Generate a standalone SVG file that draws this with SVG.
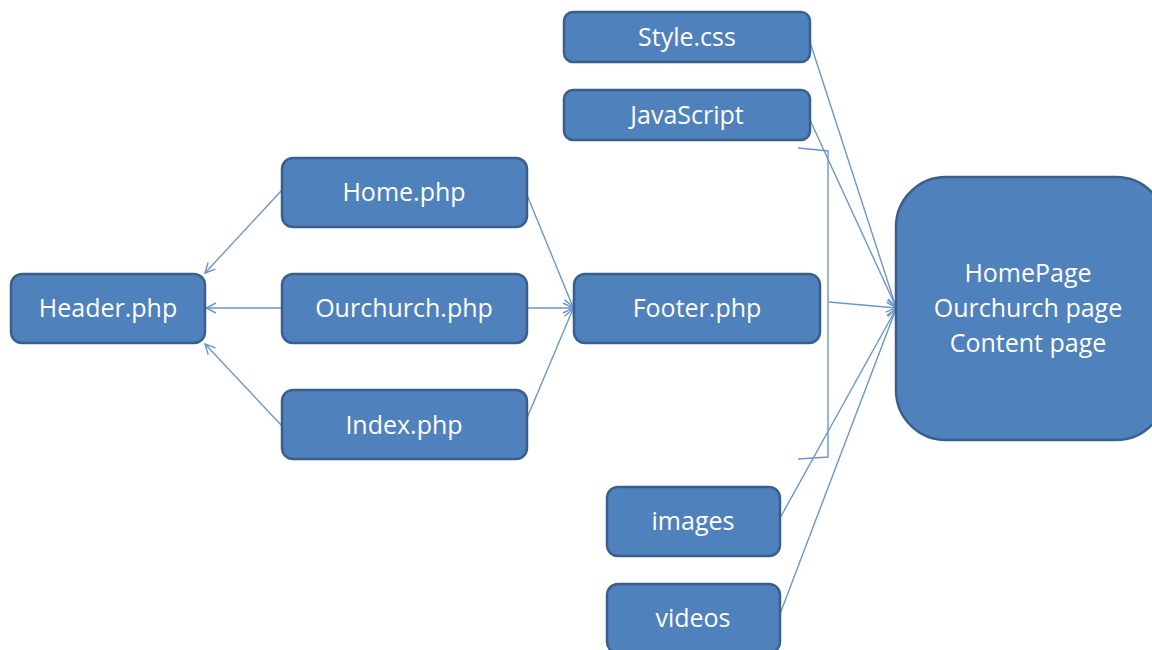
<svg xmlns="http://www.w3.org/2000/svg" width="1152" height="650" viewBox="0 0 1152 650">
  <style>
    .box { fill: #4F81BD; stroke: #3A5F8C; stroke-width: 2.5; }
    .lbl { fill: #FFFFFF; font-family: "Open Sans", "Liberation Sans", sans-serif; font-size: 25px; text-anchor: middle; }
    .link { fill: none; stroke: #6C96CC; stroke-width: 1.4; }
  </style>
  <defs>
    <marker id="arrow" viewBox="0 0 12 12" refX="11" refY="6" markerWidth="12" markerHeight="12" markerUnits="userSpaceOnUse" orient="auto">
      <path d="M1,1 L11,6 L1,11" fill="none" stroke="#6C96CC" stroke-width="1.4"/>
    </marker>
  </defs>
  <rect width="1152" height="650" fill="#FFFFFF"/>

  <g id="connectors">
    <!-- php pages to header -->
    <line class="link" x1="282" y1="190" x2="205" y2="273" marker-end="url(#arrow)"/>
    <line class="link" x1="282" y1="308" x2="206" y2="308" marker-end="url(#arrow)"/>
    <line class="link" x1="282" y1="426" x2="205" y2="344" marker-end="url(#arrow)"/>
    <!-- php pages to footer -->
    <line class="link" x1="527" y1="195" x2="573" y2="307" marker-end="url(#arrow)"/>
    <line class="link" x1="527" y1="308" x2="573" y2="308" marker-end="url(#arrow)"/>
    <line class="link" x1="527" y1="418" x2="573" y2="309" marker-end="url(#arrow)"/>
    <!-- bracket grouping footer -->
    <polyline class="link" points="798,148 828,151 828,457 798,459"/>
    <!-- assets to output pages -->
    <line class="link" x1="810" y1="42" x2="896" y2="307" marker-end="url(#arrow)"/>
    <line class="link" x1="810" y1="120" x2="896" y2="307" marker-end="url(#arrow)"/>
    <line class="link" x1="829" y1="302" x2="896" y2="308" marker-end="url(#arrow)"/>
    <line class="link" x1="780" y1="518" x2="896" y2="309" marker-end="url(#arrow)"/>
    <line class="link" x1="780" y1="614" x2="896" y2="309" marker-end="url(#arrow)"/>
  </g>

  <g id="header">
    <rect class="box" x="11" y="274" width="194" height="69" rx="11"/>
    <text class="lbl" x="108" y="317">Header.php</text>
  </g>
  <g id="home">
    <rect class="box" x="282" y="158" width="245" height="69" rx="11"/>
    <text class="lbl" x="404" y="201">Home.php</text>
  </g>
  <g id="ourchurch">
    <rect class="box" x="282" y="274" width="245" height="69" rx="11"/>
    <text class="lbl" x="404" y="317">Ourchurch.php</text>
  </g>
  <g id="index">
    <rect class="box" x="282" y="390" width="245" height="69" rx="11"/>
    <text class="lbl" x="404" y="434">Index.php</text>
  </g>
  <g id="footer">
    <rect class="box" x="574" y="274" width="246" height="69" rx="11"/>
    <text class="lbl" x="697" y="317">Footer.php</text>
  </g>
  <g id="style">
    <rect class="box" x="564" y="12" width="246" height="50" rx="9"/>
    <text class="lbl" x="687" y="46">Style.css</text>
  </g>
  <g id="javascript">
    <rect class="box" x="564" y="90" width="246" height="50" rx="9"/>
    <text class="lbl" x="687" y="124">JavaScript</text>
  </g>
  <g id="images">
    <rect class="box" x="607" y="487" width="173" height="69" rx="11"/>
    <text class="lbl" x="693" y="530">images</text>
  </g>
  <g id="videos">
    <rect class="box" x="607" y="584" width="173" height="69" rx="11"/>
    <text class="lbl" x="693" y="627">videos</text>
  </g>
  <g id="pages">
    <rect class="box" x="896" y="177" width="270" height="263" rx="50"/>
    <text class="lbl" x="1028" y="282">HomePage</text>
    <text class="lbl" x="1028" y="317">Ourchurch page</text>
    <text class="lbl" x="1028" y="352">Content page</text>
  </g>
</svg>
